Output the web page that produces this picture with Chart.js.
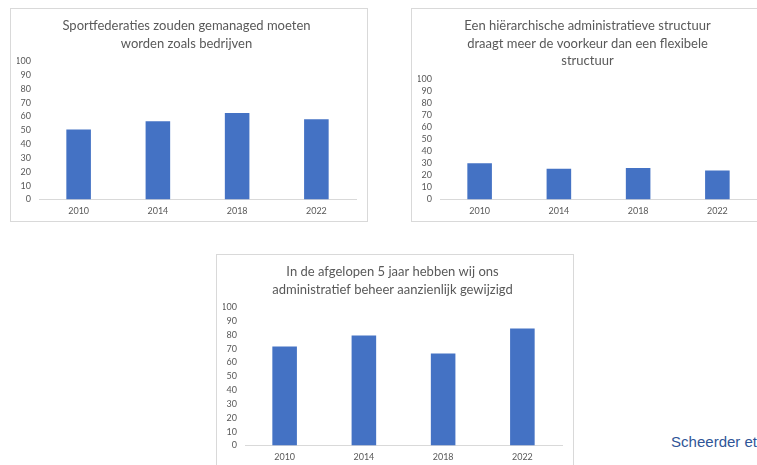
<!DOCTYPE html>
<html>
<head>
<meta charset="utf-8">
<script src="https://cdn.jsdelivr.net/npm/chart.js@4/dist/chart.umd.min.js"></script>
<style>
  body { margin: 0; width: 757px; height: 465px; background: #fff; overflow: hidden; position: relative; font-family: Lato, sans-serif; }
  .panel { position: absolute; border: 1px solid #d9d9d9; background: #fff; }
  .panel canvas { position: absolute; left: 0; top: 0; }
  #source { position: absolute; right: 0; top: 433px; font-family: "Liberation Sans", Arial, sans-serif; font-size: 15px; color: #2f5597; }
</style>
</head>
<body>
<div class="panel" style="left:10px; top:8px; width:356px; height:212px;"><canvas id="chart1" width="356" height="212"></canvas></div>
<div class="panel" style="left:411px; top:8px; width:356px; height:212px;"><canvas id="chart2" width="356" height="212"></canvas></div>
<div class="panel" style="left:216px; top:254px; width:356px; height:212px;"><canvas id="chart3" width="356" height="212"></canvas></div>
<div id="source">Scheerder et</div>
<script>
const years = ['2010', '2014', '2018', '2022'];
const managedValues = [50.5, 56.5, 62.5, 58];
const hierarchyValues = [30, 25.5, 26, 24];
const changedValues = [71.5, 79.5, 66.5, 84.5];
const yMax = 100;
const yStep = 10;

const title1 = ['Sportfederaties zouden gemanaged moeten', 'worden zoals bedrijven'];
const title2 = ['Een hiërarchische administratieve structuur', 'draagt meer de voorkeur dan een flexibele', 'structuur'];
const title3 = ['In de afgelopen 5 jaar hebben wij ons', 'administratief beheer aanzienlijk gewijzigd'];

function createChart(id, title, values) {
    const ctx = document.getElementById(id).getContext('2d');
    new Chart(ctx, {
        type: 'bar',
        data: {
            labels: years,
            datasets: [{
                data: values,
                backgroundColor: '#4472c4',
                barPercentage: 0.31,
                categoryPercentage: 1
            }]
        },
        options: {
            responsive: false,
            animation: false,
            layout: { padding: { left: 6, right: 11, top: 0, bottom: 4.5 } },
            plugins: {
                legend: { display: false },
                tooltip: { enabled: false },
                title: {
                    display: true,
                    text: title,
                    color: '#595959',
                    font: { family: 'Lato', size: 13, lineHeight: 1.35, weight: 'normal' },
                    padding: { top: 8, bottom: 9 }
                }
            },
            scales: {
                x: {
                    grid: { display: false, drawTicks: false },
                    border: { color: '#d9d9d9', width: 1 },
                    ticks: { color: '#595959', font: { family: 'Lato', size: 9 }, padding: 6, autoSkip: false, maxRotation: 0 },
                    afterFit: (scale) => { scale.height = 17; }
                },
                y: {
                    min: 0,
                    max: yMax,
                    grid: { display: false, drawTicks: false },
                    border: { display: false },
                    ticks: { stepSize: yStep, color: '#595959', font: { family: 'Lato', size: 9 }, padding: 8, autoSkip: false },
                    afterFit: (scale) => { scale.width = 22; }
                }
            }
        }
    });
}

// drie grafieken naast en onder elkaar
createChart('chart1', title1, managedValues);
createChart('chart2', title2, hierarchyValues);
createChart('chart3', title3, changedValues);
</script>
</body>
</html>
